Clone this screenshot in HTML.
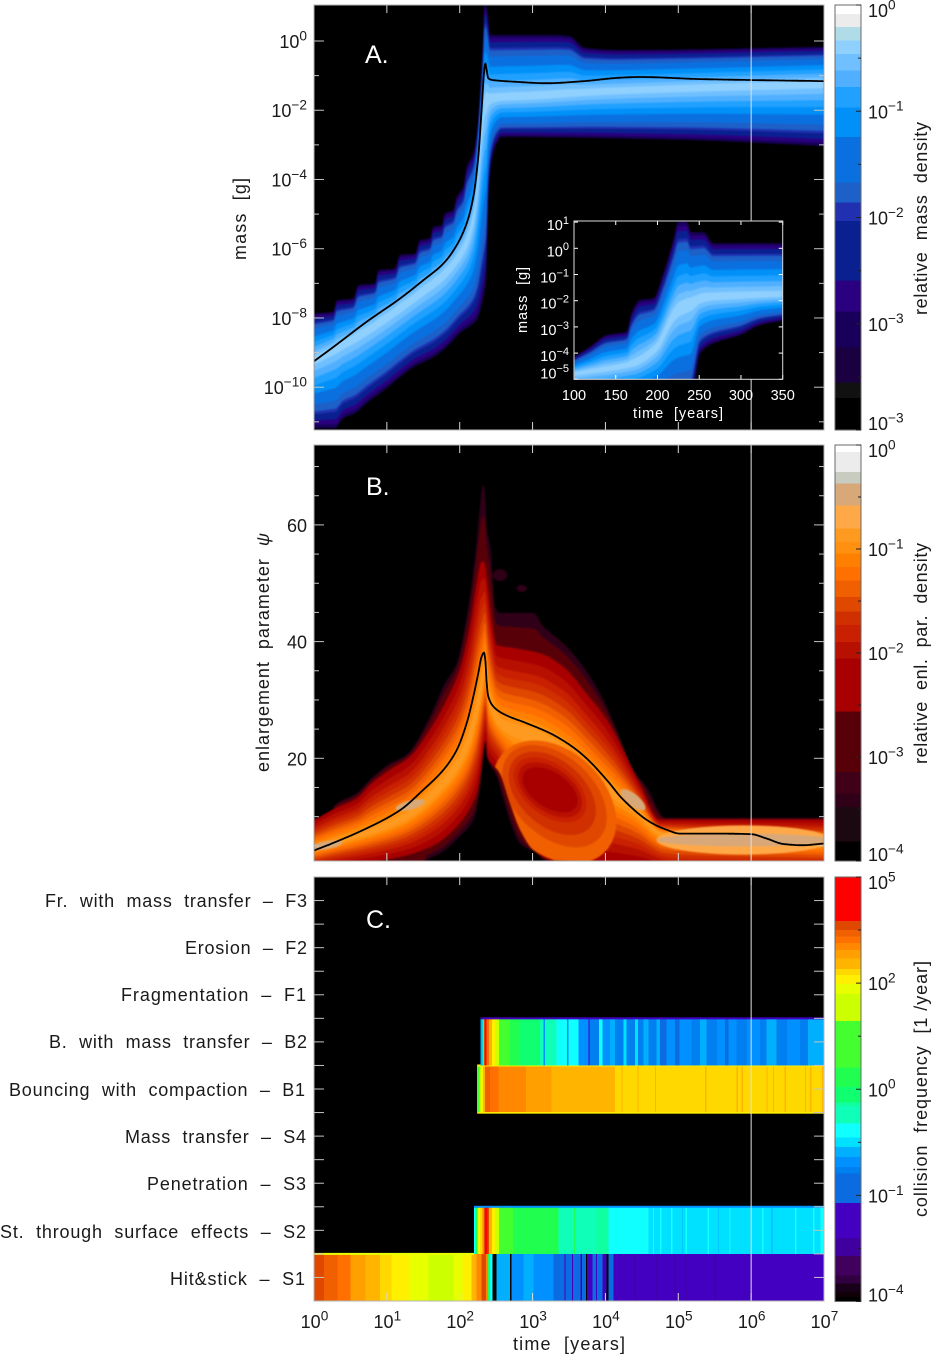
<!DOCTYPE html>
<html lang="en">
<head>
<meta charset="utf-8">
<title>Dust evolution panels</title>
<style>
  html, body { margin: 0; padding: 0; background: #fff; }
  svg { display: block; }
  text { font-family: "Liberation Sans", sans-serif; fill: #1a1a1a; white-space: pre; }
  .lab { font-size: 18px; }
  .white { fill: #fff; }
</style>
</head>
<body>
<svg id="figure" xmlns="http://www.w3.org/2000/svg" width="931" height="1356" viewBox="0 0 931 1356">
  <defs>
    <clipPath id="clip-a"><rect x="314" y="5" width="510" height="425"/></clipPath>
    <clipPath id="clip-b"><rect x="314" y="445" width="510" height="416"/></clipPath>
    <clipPath id="clip-i"><rect x="574" y="221" width="208.7" height="158.3"/></clipPath>
    <clipPath id="clip-b-red"><path id="clip-b-red-path" d=""/></clipPath>
    <filter id="soft" x="-3%" y="-3%" width="106%" height="106%" color-interpolation-filters="sRGB"><feGaussianBlur stdDeviation="0.8"/></filter>
  </defs>
  <rect x="0" y="0" width="931" height="1356" fill="#fff"/>

  <rect x="314" y="5" width="510" height="425" fill="#000"/>
  <g clip-path="url(#clip-a)"><g id="a-heat" filter="url(#soft)"></g></g>
  <g id="a-line" clip-path="url(#clip-a)"></g>

  <rect x="314" y="445" width="510" height="416" fill="#000"/>
  <g clip-path="url(#clip-b)"><g id="b-heat" filter="url(#soft)"></g></g>
  <g id="b-line" clip-path="url(#clip-b)"></g>

  <rect x="314" y="877" width="510" height="424" fill="#000"/>
  <g id="c-bars"></g>

  <g id="ref-lines"></g>
  <g id="ticks"></g>
  <rect x="314" y="5" width="510" height="425" fill="none" stroke="#b4b4b4" stroke-width="1"/>
  <rect x="314" y="445" width="510" height="416" fill="none" stroke="#b4b4b4" stroke-width="1"/>
  <rect x="314" y="877" width="510" height="424" fill="none" stroke="#b4b4b4" stroke-width="1"/>

  <rect x="574" y="221" width="208.7" height="158.3" fill="#000"/>
  <g clip-path="url(#clip-i)"><g id="i-heat" filter="url(#soft)"></g></g>
  <g id="i-ticks"></g>
  <rect x="574" y="221" width="208.7" height="158.3" fill="none" stroke="#dcdcdc" stroke-width="1"/>
  <g id="i-labels"></g>

  <g id="colorbars"></g>
  <g id="labels"></g>

  <text class="white" x="365" y="63" font-size="25">A.</text>
  <text class="white" x="366" y="495" font-size="25">B.</text>
  <text class="white" x="366" y="928" font-size="25">C.</text>

  <text class="lab" transform="translate(246,260) rotate(-90)" textLength="82">mass  [g]</text>
  <text class="lab" transform="translate(269,772) rotate(-90)" textLength="239">enlargement  parameter  <tspan font-style="italic">ψ</tspan></text>
  <text class="lab" x="513" y="1350" textLength="112">time  [years]</text>
  <text class="white" font-size="14.5" x="633" y="418" textLength="90">time  [years]</text>
  <text class="white" font-size="14.5" transform="translate(527,333) rotate(-90)" textLength="66">mass  [g]</text>

  <text class="lab" transform="translate(927,315) rotate(-90)" textLength="193">relative  mass  density</text>
  <text class="lab" transform="translate(927,764) rotate(-90)" textLength="221">relative  enl.  par.  density</text>
  <text class="lab" transform="translate(927,1217) rotate(-90)" textLength="256">collision  frequency  [1 /year]</text>

  <text class="lab" x="45" y="907" textLength="262">Fr.  with  mass  transfer  –  F3</text>
  <text class="lab" x="185" y="954" textLength="122">Erosion  –  F2</text>
  <text class="lab" x="121" y="1001" textLength="185">Fragmentation  –  F1</text>
  <text class="lab" x="49" y="1048" textLength="258">B.  with  mass  transfer  –  B2</text>
  <text class="lab" x="9" y="1096" textLength="296">Bouncing  with  compaction  –  B1</text>
  <text class="lab" x="125" y="1143" textLength="181">Mass  transfer  –  S4</text>
  <text class="lab" x="147" y="1190" textLength="159">Penetration  –  S3</text>
  <text class="lab" x="0" y="1238" textLength="306">St.  through  surface  effects  –  S2</text>
  <text class="lab" x="170" y="1285" textLength="135">Hit&amp;stick  –  S1</text>
</svg>

<script>
/* ---------- Panel A: log10(time/yr) and log10(mass/g) contour envelopes ---------- */
const aOuterUpperT = [0,.265,.312,.539,.608,.837,.883,1.112,1.18,1.386,1.455,1.592,1.637,1.753,1.798,1.912,1.958,2.049,2.096,2.186,2.233,2.302,2.324,2.337,2.361,2.392,2.416,3.3,3.5,3.72,4.2,7];
const aOuterUpperM = [-7.87,-7.82,-7.49,-7.44,-7.05,-7.0,-6.62,-6.57,-6.18,-6.14,-5.75,-5.70,-5.37,-5.32,-4.98,-4.88,-4.50,-4.21,-3.63,-3.25,-2.67,-.74,.22,1.04,1.04,.6,.17,.17,.14,-.2,-.26,-.17];
const aOuterLowerT = [0,.288,.40,.563,.723,.997,1.18,1.363,1.638,1.82,2.0,2.232,2.315,2.36,2.38,2.39,2.44,2.507,2.575,5,7];
const aOuterLowerM = [-11.18,-11.18,-10.9,-10.75,-10.46,-10.03,-9.71,-9.42,-9.13,-8.84,-8.44,-8.06,-7.49,-6.9,-5.55,-4.6,-3.44,-2.95,-2.77,-2.85,-3.03];
const aRidgeT = [0,.723,1.18,1.5,1.775,1.958,2.095,2.187,2.255,2.30,2.35,2.5,3,4,7];
const aRidgeM = [-9.2,-8.35,-7.7,-7.2,-6.75,-6.3,-5.8,-5.1,-3.9,-2.6,-1.7,-1.65,-1.6,-1.45,-1.22];
const aLineT = [0,.265,.723,1.18,1.5,1.775,1.958,2.095,2.187,2.255,2.30,2.333,2.351,2.37,2.392,2.46,2.78,3.19,3.70,4.2,4.47,5.3,7];
const aLineM = [-9.25,-8.84,-8.11,-7.44,-6.91,-6.43,-5.9,-5.27,-4.5,-3.34,-1.99,-.93,-.65,-.84,-1.08,-1.13,-1.18,-1.22,-1.16,-1.06,-1.04,-1.10,-1.16];
const aContourDensity = [-3.0,-2.7,-2.3,-1.9,-1.75,-1.5,-1.1,-.85,-.7,-.55,-.4];
const aContourSpread = [1,.95,.89,.80,.76,.66,.5,.38,.27,.17,.08];
const aXTicks = [1,2,3,4,5,6];
const aYMajor = [0,-2,-4,-6,-8,-10];
const aYMinor = [-1,-3,-5,-7,-9,-11];

/* ---------- Inset of panel A: linear time in years ---------- */
const iOuterUpperT = [100,119,139,163,169,179,195,207,219,225,235,240,255,267,350];
const iOuterUpperM = [-4.14,-3.76,-3.31,-3.18,-2.48,-1.97,-1.91,-.96,.32,1.02,1.02,.61,.61,.19,.19];
const iOuterLowerT = [100,239,251,267,299,323,350];
const iOuterLowerM = [-6,-6,-4.01,-3.63,-3.31,-2.93,-2.76];
const iRidgeT = [100,171,199,219,227,267,350];
const iRidgeM = [-4.78,-4.39,-3.76,-2.55,-2.29,-1.85,-1.78];
const iXTicks = [100,150,200,250,300,350];
const iYExp = [1,0,-1,-2,-3,-4,-5];

/* ---------- Panel B: log10(time/yr) and enlargement parameter ---------- */
const bOuterUpperT = [0,.22,.288,.585,.79,1.04,1.27,1.59,1.775,1.958,2.095,2.21,2.278,2.315,2.338,2.37,2.425,2.484,2.553,3.01,3.147,3.42,3.696,3.925,4.154,4.38,4.565,4.82,7];
const bOuterUpperP = [9.7,10,12,14,16.6,19.1,20.6,27.1,32.3,36.3,44.3,54.6,63.1,66.6,66.6,59.7,55.7,46,44.9,44.9,42.6,39.7,35.7,31.1,24.9,18,15.1,9.8,9.8];
const bOuterLowerT = [0,1.5,1.546,1.73,2.0,2.187,2.278,2.333,2.351,2.37,2.507,2.6,2.735,2.827,3.056,3.19,7];
const bOuterLowerP = [1,1,2.5,3.7,6.6,9.4,14.6,21.4,24.3,20.3,16.9,12.9,7.7,5.4,3.7,2.3,1];
const bRedUpperT = [0,.288,.585,.79,1.04,1.317,1.615,1.82,2.0,2.14,2.232,2.30,2.333,2.38,2.44,2.507,2.735,3.1,3.42,3.74,4.017,4.245,4.47,4.75,7];
const bRedUpperP = [9.4,11.4,13.1,15.7,18,20.3,25.4,30,35.1,42.6,50,53.7,53.7,50,43.7,39.4,38.9,38,35.7,31.1,26.6,21.4,15.7,9.5,9.5];
const bRedLowerT = [0,1.18,1.64,2,2.23,2.33,2.355,2.38,2.55,2.69,2.83,3.01,3.28,3.5,4.5,5,7];
const bRedLowerP = [1,3.1,5.1,8.9,14,21.4,23,20.3,17.4,12.3,7.7,4.3,2.5,2.4,1.8,.5,.5];
const bRidgeT = [0,1.2,1.8,2.1,2.3,2.35,2.4,2.6,3,3.5,4,4.4,4.8,7];
const bRidgeP = [4.5,9.5,16,22,32,36,30,25.5,24,20.5,15,11.5,7,5.5];
const bLineT = [0,.265,.723,1.18,1.5,1.775,1.958,2.095,2.187,2.255,2.30,2.333,2.351,2.37,2.392,2.46,2.6,2.92,3.24,3.51,3.74,4.017,4.245,4.61,4.85,5.02,5.5,6,6.2,6.45,6.7,7];
const bLineP = [4.2,5.5,8,11.1,14.6,18,21.4,26,30.6,34.6,37.4,38.1,36.9,32.9,30.6,28.9,27.6,26,24.3,22.3,20,16.3,12.9,9.1,7.7,7.1,7.1,7.0,6.3,5.3,5.1,5.4];
const bOuterDensity = [-3.4,-2.8];
const bOuterSpread = [1,.6];
const bRedDensity = [-2.3,-1.95,-1.8,-1.65,-1.5,-1.35,-1.25,-1.1,-.98,-.85];
const bRedSpread = [1,.85,.72,.62,.52,.42,.33,.24,.16,.08];
const bBlobT = [3.3,3.3,3.27,3.24,3.24,3.24,.17,1.32,4.38,5.9,5.9];
const bBlobP = [12.5,13.5,14,14.6,14.6,14.6,5.1,12,12.9,6,6];
const bBlobRadT = [.85,.72,.6,.5,.44,.38,.22,.2,.17,1.2,1.2];
const bBlobRadP = [10,8,6.5,5,4.2,3.4,.7,.8,1.2,2.5,1.1];
const bBlobTilt = [-4,-5,-5,-5,-5,-5,2,3,-8,0,0];
const bBlobDensity = [-1.35,-1.5,-1.65,-1.8,-1.95,-2.3,-.45,-.45,-.45,-.7,-.45];
const bSpeckT = [2.553,2.85];
const bSpeckP = [51.4,49.1];
const bSpeckRadT = [.1,.07];
const bSpeckRadP = [1,.6];
const bYMajor = [20,40,60];
const bYMinor = [5,10,15,25,30,35,45,50,55,65,70];

/* ---------- Panel C: collision rows, log10(time/yr) edges and log10(frequency) ---------- */
const cS1Time = [0,.137,.32,.503,.709,.906,1.066,1.317,1.569,1.912,2.04,2.164,2.232,2.30,2.36,2.39,2.415,2.447,2.507,2.69,2.708,2.873,3.01,3.285,3.44,3.455,3.54,3.555,3.66,3.675,3.735,3.75,3.82,3.87,3.885,3.96,4.016,4.04,4.108,4.4,4.415,4.7,4.715,4.95,4.965,5.1,5.115,5.5,5.515];
const cS1Freq = [3.6,3.4,3.2,2.8,2.55,2.3,2.1,1.9,1.5,1.9,2.2,2.55,3.1,3.6,3.0,.2,-.4,-3.95,-.6,-3.95,-.68,-.6,-.68,-1.0,-1.7,-1.0,-1.7,-1.0,-1.7,-1.0,-3.95,-1.7,-1.0,-1.7,-1.0,-1.7,-3.95,-1.0,-1.7,-2.4,-1.7,-2.4,-1.7,-2.4,-1.7,-2.4,-1.7,-2.4,-1.7];
const cS2Time = [2.196,2.22,2.245,2.28,2.31,2.333,2.35,2.38,2.40,2.44,2.485,2.54,2.73,3.353,3.57,3.585,3.88,4.04,4.59,4.65,4.67,4.75,4.77,4.9,4.92,5.05,5.06,5.1,5.12,5.4,5.42,5.55,5.56,5.7,5.72,6.15,6.17,6.28,6.29,6.6,6.62,6.85,6.87,6.95];
const cS2Freq = [-.4,.2,1.9,2.3,3.0,3.6,4.5,3.6,2.55,2.1,1.5,.8,.2,-.25,.1,-.25,-.15,-.4,-.5,-.4,-.5,-.4,-.5,-.4,-.5,-.6,-.5,-.4,-.5,-.4,-.5,-.6,-.5,-.4,-.5,-.4,-.5,-.6,-.5,-.4,-.5,-.4,-.5,-.4];
const cB1Time = [2.24,2.27,2.29,2.32,2.35,2.415,2.53,2.91,3.26,4.13,4.22,4.235,4.44,4.455,4.68,4.695,5.37,5.385,5.80,5.82,5.87,5.885,6.21,6.225,6.30,6.315,6.46,6.475,6.74,6.755,6.81,6.825,6.97,6.985];
const cB1Freq = [.8,1.5,2.1,2.55,3.4,3.2,3.05,2.8,2.55,2.3,2.55,2.3,2.55,2.3,2.55,2.3,2.55,2.3,2.55,2.3,2.55,2.3,2.55,2.3,2.55,2.3,2.55,2.3,2.55,2.3,2.55,2.3,2.55,2.3];
const cB2Time = [2.287,2.31,2.333,2.35,2.37,2.40,2.44,2.485,2.54,2.69,2.83,3.1,3.147,3.17,3.33,3.376,3.47,3.49,3.63,3.765,3.78,3.91,3.957,4.06,4.13,4.245,4.29,4.405,4.45,4.52,4.59,4.70,4.75,4.84,4.954,5.02,5.18,5.30,5.39,5.53,5.64,5.69,5.80,5.94,6.12,6.21,6.35,6.49,6.67,6.78];
const cB2Freq = [-.6,-.25,3.6,4.5,3.2,2.55,2.1,1.5,.8,.2,-.05,-.25,-.68,-.25,-.4,-.4,-.68,-.4,-.68,-1.7,-.76,-.4,-.68,-.6,-.76,-.5,-.76,-.5,-.76,-.6,-.76,-.6,-1.0,-.68,-1.0,-.68,-.76,-.6,-.76,-.68,-1.0,-.68,-.76,-.68,-.76,-.6,-.76,-.68,-.76,-.6];
const cS1EdgeFreq = 1.9;
const cS2EdgeFreq = -.7;
const cB1EdgeFreq = 2.1;
const cB2EdgeFreq = -1.7;

/* ---------- Colour scales (value edges ascending, one colour per bin) ---------- */
const scaleAEdges = [-4,-3.695,-3.55,-3.22,-2.88,-2.59,-2.03,-1.855,-1.667,-1.24,-.96,-.77,-.613,-.456,-.33,-.205,-.08,0];
const scaleAColors = ['#000','#111','#1a0040','#18005a','#2a0080','#0a2090','#2030b0','#1c60c8','#0a70e0','#0090f8','#20a0ff','#50b0ff','#70c0ff','#90d0ff','#b0dce8','#ececec','#fff'];
const scaleBEdges = [-4,-3.81,-3.48,-3.35,-3.14,-2.56,-2.05,-1.89,-1.73,-1.60,-1.46,-1.30,-1.17,-1.04,-.93,-.80,-.577,-.369,-.256,-.064,0];
const scaleBColors = ['#000','#1c0810','#300018','#400018','#580008','#a80000','#b81000','#c82000','#d03000','#e04800','#f06000','#ff7000','#ff8000','#ff9010','#ff9a20','#ffa848','#d8a878','#c8ccc0','#ececec','#fff'];
const scaleCEdges = [-4,-3.86,-3.72,-3.48,-3.25,-2.7,-2.19,-1.2,-.79,-.73,-.636,-.54,-.45,-.32,-.156,-.12,.05,.42,1.29,1.8,1.99,2.24,2.41,2.7,2.95,3.14,3.32,3.51,3.76,5];
const scaleCColors = ['#000','#100008','#180018','#300040','#40005c','#4000a0','#4400c0','#0a6ce0','#0080f0','#0090ff','#00b0ff','#00e0ff','#10ffff','#10ffb8','#10ffa0','#10ff70','#20ff50','#44ff30','#ccff00','#e8ff00','#fff000','#ffd800','#ffb400','#ffa000','#ff8800','#ff7000','#f06000','#e04800','#ff0000'];
const barATickExp = [-4,-3,-2,-1,0];
const barATickLabels = [-3,-3,-2,-1,0];
const barBTickExp = [-4,-3,-2,-1,0];
const barCTickExp = [-4,-1,0,2,5];

const SVGNS = document.getElementById('figure').namespaceURI;

function node(tag, attrs) {
  const el = document.createElementNS(SVGNS, tag);
  for (const k in attrs) el.setAttribute(k, attrs[k]);
  return el;
}
function interp(ts, vs, t) {
  if (t <= ts[0]) return vs[0];
  for (let i = 1; i < ts.length; i++) {
    if (t <= ts[i]) {
      const f = (t - ts[i - 1]) / (ts[i] - ts[i - 1]);
      return vs[i - 1] + f * (vs[i] - vs[i - 1]);
    }
  }
  return vs[vs.length - 1];
}
/* shape-preserving cubic through the knots, no overshoot */
function smooth(ts, vs, t) {
  const n = ts.length;
  if (t <= ts[0]) return vs[0];
  if (t >= ts[n - 1]) return vs[n - 1];
  let i = 1;
  while (t > ts[i]) i++;
  const h = ts[i] - ts[i - 1];
  const d = (vs[i] - vs[i - 1]) / h;
  const dPrev = i > 1 ? (vs[i - 1] - vs[i - 2]) / (ts[i - 1] - ts[i - 2]) : d;
  const dNext = i < n - 1 ? (vs[i + 1] - vs[i]) / (ts[i + 1] - ts[i]) : d;
  const m0 = dPrev * d <= 0 ? 0 : 2 * dPrev * d / (dPrev + d);
  const m1 = d * dNext <= 0 ? 0 : 2 * d * dNext / (d + dNext);
  const u = (t - ts[i - 1]) / h;
  const u2 = u * u;
  const u3 = u2 * u;
  return (2 * u3 - 3 * u2 + 1) * vs[i - 1] + (u3 - 2 * u2 + u) * h * m0 + (3 * u2 - 2 * u3) * vs[i] + (u3 - u2) * h * m1;
}
function colorFor(v, edges, colors) {
  for (let i = 0; i < colors.length; i++) if (v < edges[i + 1]) return colors[i];
  return colors[colors.length - 1];
}

/* axis functions */
const xT = lt => 314 + lt * 72.857;
const yA = m => 41 - m * 34.62;
const yB = p => 758.3 - (p - 20) * 5.835;
const yRow = v => 1301 - 47.11 * v;
const xI = yr => 574 + (yr - 100) * 0.8348;
const yI = m => 248.3 - m * 26.2;
const yBarA = v => 5 - v * 106.25;
const yBarB = v => 445 - v * 104;
const yBarC = v => 1301.5 - interp(barCTickExp, [0, .25, .5, .75, 1], v) * 424.5;

function bandPath(grid, xf, yf, upper, lower) {
  let top = '', bot = '';
  for (let i = 0; i < grid.length; i++) {
    const x = xf(grid[i]).toFixed(1);
    top += (i ? 'L' : 'M') + x + ' ' + yf(upper(grid[i])).toFixed(1);
  }
  for (let i = grid.length - 1; i >= 0; i--) {
    const x = xf(grid[i]).toFixed(1);
    bot += 'L' + x + ' ' + yf(lower(grid[i])).toFixed(1);
  }
  return top + bot + 'Z';
}
function linePath(ts, vs, xf, yf, grid) {
  let d = '';
  grid.forEach((t, i) => {
    d += (i ? 'L' : 'M') + xf(t).toFixed(1) + ' ' + yf(smooth(ts, vs, t)).toFixed(1);
  });
  return d;
}

const timeGrid = [];
for (let i = 0; i <= 1020; i++) timeGrid.push(7 * i / 1020);
const yearGrid = [];
for (let y = 100; y <= 350; y += 0.5) yearGrid.push(y);

/* ---------- Panel A contours ---------- */
const aHeat = document.getElementById('a-heat');
aContourDensity.forEach((density, k) => {
  const s = aContourSpread[k];
  const up = t => { const r = smooth(aRidgeT, aRidgeM, t); return r + s * (smooth(aOuterUpperT, aOuterUpperM, t) - r); };
  const lo = t => { const r = smooth(aRidgeT, aRidgeM, t); return r + s * (smooth(aOuterLowerT, aOuterLowerM, t) - r); };
  const el = node('path', { d: bandPath(timeGrid, xT, yA, up, lo), fill: colorFor(density, scaleAEdges, scaleAColors) });
  
  
  aHeat.appendChild(el);
});
const aLineEl = node('path', { d: linePath(aLineT, aLineM, xT, yA, timeGrid), fill: 'none', stroke: '#000', 'stroke-width': 1.8 });


document.getElementById('a-line').appendChild(aLineEl);

/* ---------- Inset contours ---------- */
const iHeat = document.getElementById('i-heat');
aContourDensity.forEach((density, k) => {
  const s = aContourSpread[k];
  const up = t => { const r = smooth(iRidgeT, iRidgeM, t); return r + s * (smooth(iOuterUpperT, iOuterUpperM, t) - r); };
  const lo = t => { const r = smooth(iRidgeT, iRidgeM, t); return r + s * (smooth(iOuterLowerT, iOuterLowerM, t) - r); };
  const el = node('path', { d: bandPath(yearGrid, xI, yI, up, lo), fill: colorFor(density, scaleAEdges, scaleAColors) });
  
  
  iHeat.appendChild(el);
});

/* ---------- Panel B contours ---------- */
const bHeat = document.getElementById('b-heat');
bSpeckT.forEach((ct, k) => {
  const el = node('ellipse', { cx: xT(ct), cy: yB(bSpeckP[k]), rx: bSpeckRadT[k] * 72.857, ry: bSpeckRadP[k] * 5.835, fill: colorFor(-3.4, scaleBEdges, scaleBColors) });
  
  
  bHeat.appendChild(el);
});
bOuterDensity.forEach((density, k) => {
  const s = bOuterSpread[k];
  const up = t => { const r = smooth(bRedUpperT, bRedUpperP, t); return r + s * (smooth(bOuterUpperT, bOuterUpperP, t) - r); };
  const lo = t => { const r = smooth(bRedLowerT, bRedLowerP, t); return r + s * (smooth(bOuterLowerT, bOuterLowerP, t) - r); };
  const el = node('path', { d: bandPath(timeGrid, xT, yB, up, lo), fill: colorFor(density, scaleBEdges, scaleBColors) });
  
  
  bHeat.appendChild(el);
});
bRedDensity.forEach((density, k) => {
  const s = bRedSpread[k];
  const up = t => { const r = smooth(bRidgeT, bRidgeP, t); return r + s * (smooth(bRedUpperT, bRedUpperP, t) - r); };
  const lo = t => { const r = smooth(bRidgeT, bRidgeP, t); return r + s * (smooth(bRedLowerT, bRedLowerP, t) - r); };
  const d = bandPath(timeGrid, xT, yB, up, lo);
  const el = node('path', { d: d, fill: colorFor(density, scaleBEdges, scaleBColors) });
  
  
  bHeat.appendChild(el);
  if (k === 0) document.getElementById('clip-b-red-path').setAttribute('d', d);
});
const blobGroup = node('g', { 'clip-path': 'url(#clip-b-red)' });


bHeat.appendChild(blobGroup);
bBlobT.forEach((ct, k) => {
  let d = '';
  for (let a = 0; a < 48; a++) {
    const th = a / 48 * Math.PI * 2;
    const t = ct + bBlobRadT[k] * Math.cos(th);
    const p = bBlobP[k] + bBlobRadP[k] * Math.sin(th) + bBlobTilt[k] * bBlobRadT[k] * Math.cos(th);
    d += (a ? 'L' : 'M') + xT(t).toFixed(1) + ' ' + yB(p).toFixed(1);
  }
  const el = node('path', { d: d + 'Z', fill: colorFor(bBlobDensity[k], scaleBEdges, scaleBColors) });
  
  
  blobGroup.appendChild(el);
});
const bLineEl = node('path', { d: linePath(bLineT, bLineP, xT, yB, timeGrid), fill: 'none', stroke: '#000', 'stroke-width': 1.8 });


document.getElementById('b-line').appendChild(bLineEl);

/* ---------- Panel C rows ---------- */
const cBars = document.getElementById('c-bars');
function drawRow(rowIndex, times, freqs, edgeFreq, rowName) {
  times.forEach((t, i) => {
    const x0 = xT(t);
    const x1 = xT(i + 1 < times.length ? times[i + 1] : 7);
    const el = node('rect', {
      x: x0.toFixed(2), y: yRow(rowIndex + 1).toFixed(2),
      width: Math.max(0.5, x1 - x0).toFixed(2), height: (yRow(rowIndex) - yRow(rowIndex + 1)).toFixed(2),
      fill: colorFor(freqs[i], scaleCEdges, scaleCColors), 'shape-rendering': 'crispEdges'
    });
    
    
    cBars.appendChild(el);
  });
  const edge = node('rect', {
    x: xT(times[0]).toFixed(2), y: (yRow(rowIndex + 1) - 1).toFixed(2),
    width: (xT(rowIndex === 0 ? cS2Time[0] : 7) - xT(times[0])).toFixed(2), height: 2,
    fill: colorFor(edgeFreq, scaleCEdges, scaleCColors)
  });
  
  
  cBars.appendChild(edge);
}
drawRow(0, cS1Time, cS1Freq, cS1EdgeFreq, 'row-s1');
drawRow(1, cS2Time, cS2Freq, cS2EdgeFreq, 'row-s2');
drawRow(4, cB1Time, cB1Freq, cB1EdgeFreq, 'row-b1');
drawRow(5, cB2Time, cB2Freq, cB2EdgeFreq, 'row-b2');
const b1Bottom = node('rect', {
  x: xT(cB1Time[0]).toFixed(2), y: (yRow(4) - 0.5).toFixed(2),
  width: (xT(7) - xT(cB1Time[0])).toFixed(2), height: 1.6,
  fill: colorFor(cB1EdgeFreq, scaleCEdges, scaleCColors)
});


cBars.appendChild(b1Bottom);

/* ---------- Reference line at 10^6 years ---------- */
const refLines = document.getElementById('ref-lines');
[[5, 430], [445, 861], [877, 1301]].forEach(span => {
  const el = node('line', { x1: xT(6), x2: xT(6), y1: span[0], y2: span[1], stroke: '#e0e0e0', 'stroke-width': 1 });
  
  
  refLines.appendChild(el);
});

/* ---------- Ticks ---------- */
const tickGroup = document.getElementById('ticks');
function tick(parent, x1, y1, x2, y2, color, name) {
  const el = node('line', { x1: x1, y1: y1, x2: x2, y2: y2, stroke: color, 'stroke-width': 1 });
  
  
  parent.appendChild(el);
}
[[5, 430], [445, 861], [877, 1301]].forEach(span => {
  aXTicks.forEach(lt => {
    tick(tickGroup, xT(lt), span[0], xT(lt), span[0] + 8, '#d8d8d8', 'x-tick-top');
    tick(tickGroup, xT(lt), span[1], xT(lt), span[1] - 8, '#d8d8d8', 'x-tick-bottom');
  });
});
function yTicks(vals, scale, len) {
  vals.forEach(v => {
    const y = scale(v);
    tick(tickGroup, 314, y, 314 + len, y, '#c4c4c4', 'y-tick-left');
    tick(tickGroup, 824, y, 824 - len, y, '#c4c4c4', 'y-tick-right');
  });
}
yTicks(aYMajor, yA, 10);
yTicks(aYMinor, yA, 5);
yTicks(bYMajor, yB, 10);
yTicks(bYMinor, yB, 5);
for (let v = 0.5; v < 9; v += 0.5) {
  const y = yRow(v);
  tick(tickGroup, 314, y, 324, y, '#c4c4c4', 'row-tick-left');
  tick(tickGroup, 824, y, 814, y, '#c4c4c4', 'row-tick-right');
}

const iTicks = document.getElementById('i-ticks');
iXTicks.forEach(yr => {
  tick(iTicks, xI(yr), 221, xI(yr), 225, '#fff', 'inset-x-tick-top');
  tick(iTicks, xI(yr), 379, xI(yr), 375, '#fff', 'inset-x-tick-bottom');
});
iYExp.forEach(e => {
  tick(iTicks, 574, yI(e), 578, yI(e), '#fff', 'inset-y-tick-left');
  tick(iTicks, 782.7, yI(e), 778.7, yI(e), '#fff', 'inset-y-tick-right');
});

/* ---------- Tick labels ---------- */
function powerLabel(parent, x, y, anchor, exp, size, cls, name) {
  const el = node('text', { x: x, y: y, 'text-anchor': anchor, 'font-size': size });
  if (cls) el.setAttribute('class', cls);
  
  
  el.appendChild(document.createTextNode('10'));
  const sup = node('tspan', { dy: -size * 0.42, 'font-size': size * 0.76 });
  sup.textContent = String(exp).replace('-', '\u2212');
  el.appendChild(sup);
  parent.appendChild(el);
}
const labels = document.getElementById('labels');
aYMajor.forEach(e => {
  powerLabel(labels, 307, yA(e) + 7, 'end', e, 18, '', 'panel-a-y-tick-label');
});
bYMajor.forEach(v => {
  const el = node('text', { x: 307, y: yB(v) + 7, 'text-anchor': 'end', 'font-size': 18 });
  
  
  el.textContent = v;
  labels.appendChild(el);
});
[0, 1, 2, 3, 4, 5, 6, 7].forEach(e => {
  powerLabel(labels, xT(e) + 0.5, 1328, 'middle', e, 18, '', 'x-tick-label');
});
const iLabels = document.getElementById('i-labels');
iXTicks.forEach(yr => {
  const el = node('text', { x: xI(yr), y: 400, 'text-anchor': 'middle', 'font-size': 14.5, class: 'white' });
  
  
  el.textContent = yr;
  iLabels.appendChild(el);
});
iYExp.forEach((e, i) => {
  const nudge = i === iYExp.length - 1 ? -1 : 8;
  powerLabel(iLabels, 569, yI(e) + nudge, 'end', e, 14.5, 'white', 'inset-y-tick-label');
});

/* ---------- Colour bars ---------- */
const bars = document.getElementById('colorbars');
function colorBar(edges, colors, scale, tickVals, printed, barName) {
  colors.forEach((c, i) => {
    const top = scale(edges[i + 1]);
    const bot = scale(edges[i]);
    const el = node('rect', { x: 835, y: top.toFixed(2), width: 26, height: (bot - top + 0.3).toFixed(2), fill: c, 'shape-rendering': 'crispEdges' });
    
    
    bars.appendChild(el);
  });
  const top = scale(edges[edges.length - 1]);
  const bot = scale(edges[0]);
  const frame = node('rect', { x: 835, y: top, width: 26, height: bot - top, fill: 'none', stroke: '#6a6a6a', 'stroke-width': 1 });
  
  
  bars.appendChild(frame);
  tickVals.forEach((v, i) => {
    const y = scale(v);
    tick(bars, 856, y, 861, y, '#222', barName + '-tick');
    if (i + 1 < tickVals.length) {
      const mid = (y + scale(tickVals[i + 1])) / 2;
      tick(bars, 858, mid, 861, mid, '#222', barName + '-minor-tick');
    }
    const off = i === 0 ? 0 : (i === tickVals.length - 1 ? 12 : 7);
    powerLabel(labels, 868, y + off, 'start', printed[i], 18, '', barName + '-tick-label');
  });
}
colorBar(scaleAEdges, scaleAColors, yBarA, barATickExp, barATickLabels, 'colorbar-a');
colorBar(scaleBEdges, scaleBColors, yBarB, barBTickExp, barBTickExp, 'colorbar-b');
colorBar(scaleCEdges, scaleCColors, yBarC, barCTickExp, barCTickExp, 'colorbar-c');
</script>
</body>
</html>
